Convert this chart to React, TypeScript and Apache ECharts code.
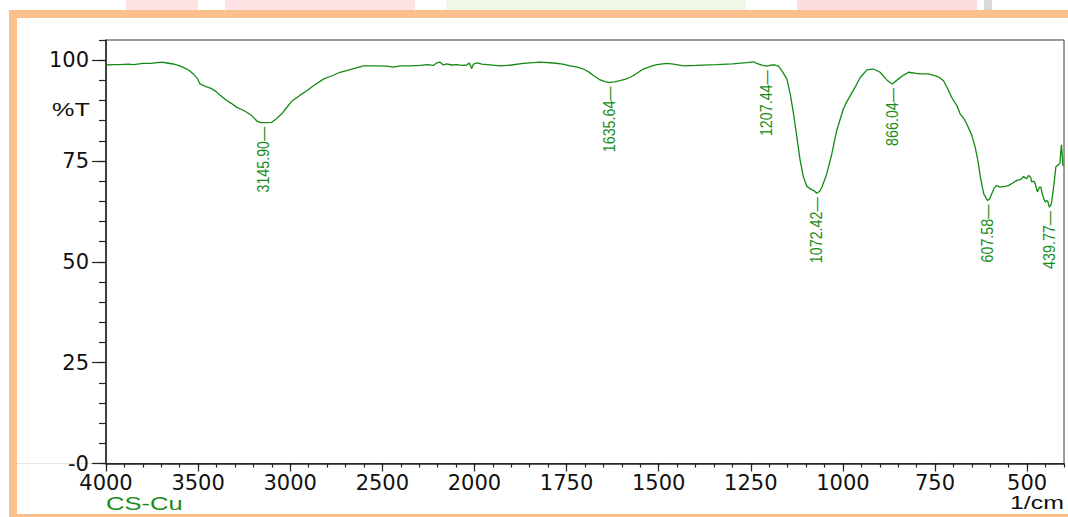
import React, { useEffect, useRef } from "react";
import * as echarts from "echarts";

// ---- data ----
const wavenumbers = [
  3998, 3960, 3924, 3880, 3850, 3799, 3760, 3720, 3698, 3670, 3635, 3600, 3580, 3550, 3526, 3505,
  3490, 3470, 3453, 3430, 3408, 3380, 3345, 3320, 3290, 3260, 3236, 3210, 3181, 3160, 3130, 3100,
  3075, 3046, 3020, 2992, 2950, 2910, 2870, 2820, 2770, 2730, 2680, 2603, 2540, 2476, 2440, 2404,
  2350, 2295, 2257, 2224, 2205, 2187, 2169, 2151, 2123, 2096, 2069, 2042, 2028, 2015, 2006, 1992,
  1980, 1930, 1900, 1867, 1822, 1786, 1760, 1741, 1720, 1704, 1690, 1677, 1659, 1645, 1637, 1620,
  1605, 1590, 1578, 1560, 1542, 1520, 1505, 1478, 1460, 1433, 1400, 1342, 1300, 1261, 1243, 1234,
  1220, 1211, 1207, 1195, 1184, 1175, 1166, 1152, 1143, 1134, 1125, 1116, 1107, 1098, 1085, 1078,
  1071, 1063, 1057, 1044, 1030, 1017, 999, 990, 980, 967, 953, 935, 920, 917, 899, 881,
  866, 850, 835, 822, 800, 791, 770, 755, 740, 727, 715, 705, 690, 682, 670, 660,
  650, 641, 633, 627, 618, 608, 602, 596, 590, 584, 578, 574, 560, 551, 540, 528,
  520, 515, 510, 505, 501, 497, 495, 490, 488, 482, 478, 472, 467, 463, 458, 455,
  451, 447, 444, 440, 436, 433, 427, 422, 415, 411, 409, 407, 405, 403, 401,
];
const transmittance = [
  98.8, 98.9, 98.9, 99.0, 98.9, 99.2, 99.2, 99.4, 99.5, 99.3, 99.05, 98.6, 98.2, 97.5, 96.6, 95.5,
  94.1, 93.7, 93.4, 93.0, 92.4, 91.3, 90.0, 89.3, 88.3, 87.7, 87.1, 86.3, 84.9, 84.5, 84.5, 84.6,
  85.5, 86.7, 88.2, 89.8, 91.2, 92.4, 93.8, 95.3, 96.2, 97.0, 97.6, 98.6, 98.6, 98.5, 98.3, 98.6,
  98.6, 98.7, 98.9, 98.7, 99.3, 99.5, 98.8, 99.1, 98.8, 98.9, 98.7, 98.8, 99.3, 97.9, 99.0, 99.3,
  99.0, 98.6, 98.8, 99.2, 99.5, 99.3, 99.0, 98.6, 98.3, 97.8, 97.1, 96.2, 95.1, 94.7, 94.5, 94.6,
  94.9, 95.3, 95.7, 96.7, 97.8, 98.5, 98.9, 99.2, 99.0, 98.6, 98.7, 98.9, 99.1, 99.4, 99.6, 99.2,
  98.8, 98.6, 98.5, 98.8, 98.8, 98.5, 97.4, 95.3, 91.6, 86.7, 80.9, 75.1, 71.0, 68.7, 67.9, 67.6,
  67.0, 67.5, 68.5, 71.8, 76.8, 82.5, 87.9, 89.6, 91.2, 93.3, 95.7, 97.6, 97.8, 97.8, 97.0, 95.1,
  94.1, 95.3, 96.3, 97.0, 96.7, 96.6, 96.6, 96.3, 95.8, 94.9, 92.8, 90.8, 88.6, 86.7, 85.3, 83.4,
  81.3, 78.4, 74.8, 71.0, 66.9, 65.2, 65.6, 66.9, 68.2, 68.9, 68.7, 68.5, 68.7, 68.9, 69.5, 70.2,
  70.4, 70.6, 71.2, 70.8, 70.6, 71.3, 71.4, 70.8, 69.8, 70.0, 69.4, 67.3, 68.5, 68.5, 66.5, 65.8,
  64.8, 65.2, 65.0, 63.6, 64.0, 65.2, 69.4, 73.6, 74.1, 74.5, 77.0, 79.0, 76.5, 74.0, 73.8,
];
const peakWavenumbers = [3145.9, 1635.64, 1207.44, 1072.42, 866.04, 607.58, 439.77];
const peakTransmittance = [84.5, 94.5, 98.5, 67.0, 94.1, 65.2, 63.6];
const xTickLabels = [4000, 3500, 3000, 2500, 2000, 1750, 1500, 1250, 1000, 750, 500];
const yTickLabels = [0, 25, 50, 75, 100];
const sampleName = "CS-Cu";
const xUnit = "1/cm";
const yUnit = "%T";

// FTIR axis: 4000-2000 drawn at half the scale of 2000-400
const toPos = (w: number) => (w >= 2000 ? 4000 - w : 2000 + 2 * (2000 - w));
const fromPos = (p: number) => (p <= 2000 ? 4000 - p : 2000 - (p - 2000) / 2);

const GREEN = "#138a13";
const LABEL_GREEN = "#178c17";
const AXIS = "#222";
const TICK_FONT = "DejaVu Sans";

export default function App() {
  const ref = useRef<HTMLDivElement>(null);
  useEffect(() => {
    if (!ref.current) return;
    const chart = echarts.init(ref.current, undefined, { renderer: "svg" });
    const majorX = xTickLabels.map(toPos);
    const minorX: number[] = [];
    for (let p = 0; p <= 5200; p += 100) minorX.push(p);
    const minorY: number[] = [];
    for (let v = 0; v <= 105; v += 5) minorY.push(v);

    const common = { type: "value" as const, splitLine: { show: false } };
    const option: any = {
      animation: false,
      backgroundColor: "#ffffff",
      grid: {
        left: 106, right: 4, top: 40, bottom: 53.5,
        show: true, borderColor: "#3a3a3a", borderWidth: 1, backgroundColor: "transparent",
      },
      xAxis: [
        {
          ...common, min: 0, max: 5200, position: "bottom",
          axisLine: { show: true, onZero: false, lineStyle: { color: AXIS, width: 1.5 } },
          axisTick: { show: true, length: 8, customValues: majorX, lineStyle: { color: AXIS, width: 1.2 } },
          axisLabel: {
            show: true, customValues: majorX, formatter: (v: number) => String(Math.round(fromPos(v))),
            color: "#111", fontFamily: TICK_FONT, fontSize: 21, margin: 9,
          },
        },
        {
          ...common, min: 0, max: 5200, position: "bottom",
          axisLine: { show: false, onZero: false },
          axisTick: { show: true, length: 4, customValues: minorX, lineStyle: { color: AXIS, width: 1.2 } },
          axisLabel: { show: false },
        },
      ],
      yAxis: [
        {
          ...common, min: 0, max: 105, position: "left",
          axisLine: { show: true, onZero: false, lineStyle: { color: AXIS, width: 1.5 } },
          axisTick: { show: true, length: 14, customValues: yTickLabels, lineStyle: { color: AXIS, width: 1.2 } },
          axisLabel: {
            show: true, customValues: yTickLabels, formatter: (v: number) => (v === 0 ? "-0" : String(v)),
            color: "#111", fontFamily: TICK_FONT, fontSize: 21, margin: 17,
          },
        },
        {
          ...common, min: 0, max: 105, position: "left",
          axisLine: { show: false, onZero: false },
          axisTick: { show: true, length: 7, customValues: minorY, lineStyle: { color: AXIS, width: 1.2 } },
          axisLabel: { show: false },
        },
      ],
      series: [
        {
          type: "line", xAxisIndex: 0, yAxisIndex: 0, silent: true,
          data: wavenumbers.map((w, i) => [toPos(w), transmittance[i]]),
          showSymbol: false, symbol: "none",
          lineStyle: { color: GREEN, width: 1.3 },
        },
        {
          type: "custom", xAxisIndex: 0, yAxisIndex: 0, silent: true,
          data: peakWavenumbers.map((w, i) => [toPos(w), peakTransmittance[i]]),
          renderItem: (params: any, api: any) => {
            const pt = api.coord([api.value(0), api.value(1)]);
            const label = peakWavenumbers[params.dataIndex].toFixed(2) + "\u2014";
            return {
              type: "text",
              x: pt[0],
              y: pt[1] + 4,
              rotation: Math.PI / 2,
              scaleX: 0.84,
              style: {
                text: label,
                fill: LABEL_GREEN,
                font: '17px "Liberation Sans"',
                align: "right",
                verticalAlign: "middle",
                textAlign: "right",
                textVerticalAlign: "middle",
              },
            };
          },
        },
      ],
      graphic: [
        // faded remnants above the frame
        { type: "rect", shape: { x: 126, y: 0, width: 72, height: 10 }, style: { fill: "#fde3e3" }, silent: true },
        { type: "rect", shape: { x: 225, y: 0, width: 190, height: 10 }, style: { fill: "#fde3e3" }, silent: true },
        { type: "rect", shape: { x: 446, y: 0, width: 300, height: 10 }, style: { fill: "#f0f8e8" }, silent: true },
        { type: "rect", shape: { x: 797, y: 0, width: 180, height: 10 }, style: { fill: "#fcdede" }, silent: true },
        { type: "rect", shape: { x: 984, y: 0, width: 8, height: 10 }, style: { fill: "#d9d9d9" }, silent: true },
        // orange frame
        { type: "rect", shape: { x: 9, y: 10, width: 1059, height: 8 }, style: { fill: "#fbc08e" }, silent: true },
        { type: "rect", shape: { x: 9, y: 10, width: 8, height: 507 }, style: { fill: "#fbc08e" }, silent: true },
        { type: "rect", shape: { x: 9, y: 514, width: 1059, height: 3 }, style: { fill: "#fbc08e" }, silent: true },
        // faint baseline left of the axis
        { type: "line", shape: { x1: 17, y1: 463.5, x2: 92, y2: 463.5 }, style: { stroke: "#e6e6e6", lineWidth: 1 }, silent: true },
        {
          type: "text", x: 52, y: 110, scaleX: 1.4, silent: true,
          style: { text: yUnit, fill: "#111", font: '18px "Liberation Sans"', textVerticalAlign: "middle", verticalAlign: "middle" },
        },
        {
          type: "text", x: 106, y: 503.5, scaleX: 1.42, silent: true,
          style: { text: sampleName, fill: LABEL_GREEN, font: '18px "Liberation Sans"', textVerticalAlign: "middle", verticalAlign: "middle" },
        },
        {
          type: "text", x: 1010, y: 503, scaleX: 1.38, silent: true,
          style: { text: xUnit, fill: "#111", font: '18px "Liberation Sans"', textVerticalAlign: "middle", verticalAlign: "middle" },
        },
      ],
    };
    chart.setOption(option);
    return () => chart.dispose();
  }, []);
  return (
    <div
      ref={ref}
      style={{ position: "fixed", left: 0, top: 0, width: 1068, height: 517, background: "#fff" }}
    />
  );
}
